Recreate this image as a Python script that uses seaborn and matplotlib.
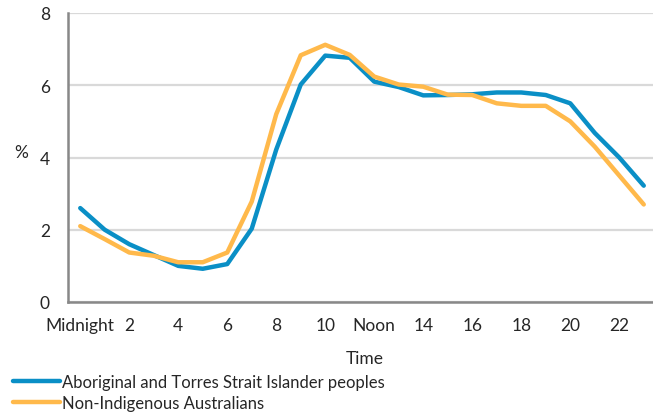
import numpy as np
import pandas as pd
import matplotlib.pyplot as plt
import seaborn as sns

# hourly share of activity (%)
hours = list(range(24))
aboriginal = [2.6, 2.0, 1.6, 1.3, 1.0, 0.92, 1.05, 2.03, 4.22, 6.02, 6.82, 6.76,
              6.1, 5.95, 5.72, 5.73, 5.75, 5.8, 5.8, 5.73, 5.5, 4.68, 4.0, 3.22]
non_indigenous = [2.1, 1.74, 1.37, 1.28, 1.1, 1.1, 1.37, 2.78, 5.2, 6.83, 7.12, 6.84,
                  6.24, 6.02, 5.96, 5.74, 5.73, 5.5, 5.43, 5.43, 5.0, 4.3, 3.5, 2.7]
series_names = ["Aboriginal and Torres Strait Islander peoples", "Non-Indigenous Australians"]
tick_labels = ["Midnight", "2", "4", "6", "8", "10", "Noon", "14", "16", "18", "20", "22"]
colors = ["#0a8fc6", "#ffb94b"]

df = pd.DataFrame({
    "hour": hours * 2,
    "value": aboriginal + non_indigenous,
    "group": [series_names[0]] * 24 + [series_names[1]] * 24,
})

sns.set_style("white")
plt.rcParams["font.family"] = ["Lato", "DejaVu Sans"]

fig = plt.figure(figsize=(6.53, 4.14), dpi=100)
ax = fig.add_axes([68 / 653, 111 / 414, 588 / 653, 289 / 414])

sns.lineplot(data=df, x="hour", y="value", hue="group", hue_order=series_names,
             palette=colors, linewidth=3.2, ax=ax, legend=False)

ax.set_xlim(-0.5, 23.5)
ax.set_ylim(0, 8)
ax.set_yticks([0, 2, 4, 6, 8])
ax.yaxis.grid(True, color="#d9d9d9", linewidth=1.6)
ax.set_axisbelow(True)

# tick marks between categories, labels on every second hour
ax.set_xticks(np.arange(-0.5, 24, 1))
ax.set_xticklabels([])
ax.set_xticks(range(0, 24, 2), minor=True)
ax.set_xticklabels(tick_labels, minor=True)
ax.tick_params(axis="x", which="major", length=5, width=1.5, color="#888888", direction="out")
ax.tick_params(axis="x", which="minor", length=0, pad=11, labelsize=12.5)
ax.tick_params(axis="y", length=5, width=1.5, color="#888888", direction="out", labelsize=12.5, pad=8)

for side in ["top", "right"]:
    ax.spines[side].set_visible(False)
for side in ["left", "bottom"]:
    ax.spines[side].set_color("#888888")
    ax.spines[side].set_linewidth(1.8)

ax.set_xlabel("Time", fontsize=12.5)
ax.xaxis.set_label_coords((365 - 68) / 588, -0.165)
ax.set_ylabel("%", rotation=0, fontsize=12.5)
ax.yaxis.set_label_coords(-0.08, 0.49)

handles = [plt.Line2D([], [], color=c, linewidth=3.2, solid_capstyle="round") for c in colors]
fig.legend(handles, series_names, loc="lower left", bbox_to_anchor=(0.01, -0.012),
           frameon=False, fontsize=12, handlelength=2.8, handletextpad=0.15,
           labelspacing=0.3, borderaxespad=0)

fig.savefig("out.png", dpi=100)
